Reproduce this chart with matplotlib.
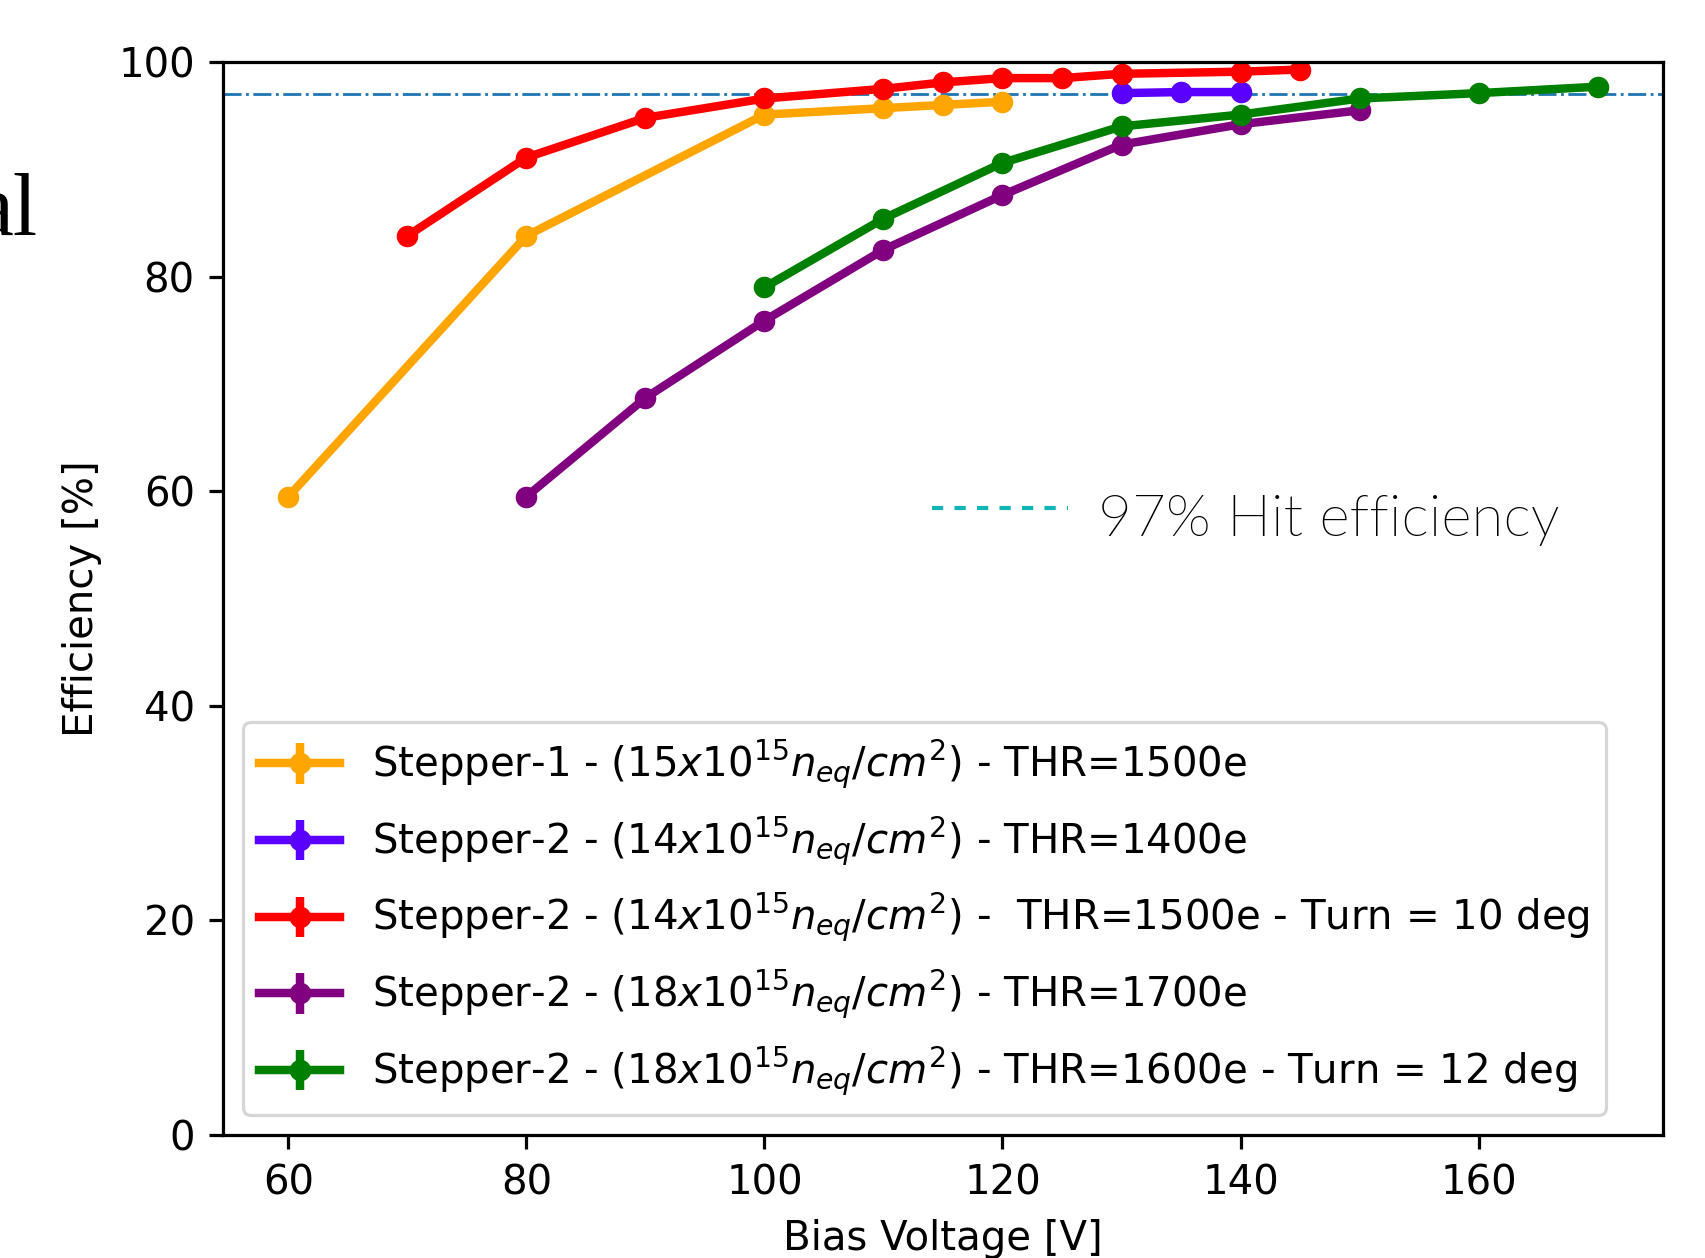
import matplotlib.pyplot as plt
from matplotlib.lines import Line2D
from matplotlib import font_manager

# scale of the original 6.4x4.8 figure as it appears in the screenshot
S = 2.9

# Data (bias voltage [V], efficiency [%])
v_s1 = [60, 80, 100, 110, 115, 120]
e_s1 = [59.5, 83.8, 95.1, 95.7, 96.0, 96.3]

v_s2_1400 = [130, 135, 140]
e_s2_1400 = [97.1, 97.2, 97.2]

v_s2_1500 = [70, 80, 90, 100, 110, 115, 120, 125, 130, 140, 145]
e_s2_1500 = [83.8, 91.1, 94.8, 96.6, 97.5, 98.1, 98.5, 98.5, 98.9, 99.1, 99.3]

v_s2_1700 = [80, 90, 100, 110, 120, 130, 140, 150]
e_s2_1700 = [59.5, 68.7, 75.9, 82.5, 87.6, 92.3, 94.2, 95.5]

v_s2_1600 = [100, 110, 120, 130, 140, 150, 160, 170]
e_s2_1600 = [79.0, 85.4, 90.6, 94.0, 95.1, 96.6, 97.1, 97.7]

err = 0.3

labels = [
    r"Stepper-1 - ($15x10^{15}n_{eq}/cm^{2}$) - THR=1500e",
    r"Stepper-2 - ($14x10^{15}n_{eq}/cm^{2}$) - THR=1400e",
    r"Stepper-2 - ($14x10^{15}n_{eq}/cm^{2}$) -  THR=1500e - Turn = 10 deg",
    r"Stepper-2 - ($18x10^{15}n_{eq}/cm^{2}$) - THR=1700e",
    r"Stepper-2 - ($18x10^{15}n_{eq}/cm^{2}$) - THR=1600e - Turn = 12 deg",
]
colors = ["orange", "#5a00ff", "red", "purple", "green"]
series = [(v_s1, e_s1), (v_s2_1400, e_s2_1400), (v_s2_1500, e_s2_1500),
          (v_s2_1700, e_s2_1700), (v_s2_1600, e_s2_1600)]

fig = plt.figure(figsize=(17.06, 12.58), dpi=100)
ax = fig.add_axes([0.1307, 0.0978, 0.8441, 0.8529])

for (x, y), c, lab in zip(series, colors, labels):
    ax.errorbar(x, y, yerr=err, color=c, marker="o", ms=5 * S, lw=2.1 * S,
                elinewidth=2.1 * S, label=lab)

ax.axhline(97, color="#1f77b4", ls="-.", lw=0.7 * S)

ax.set_ylim(0, 100)
ax.set_xlabel("Bias Voltage [V]", fontsize=10 * S, labelpad=4 * S)
ax.set_ylabel("Efficiency [%]", fontsize=10 * S, labelpad=4 * S)
ax.tick_params(labelsize=10 * S, length=3.5 * S, width=0.8 * S, pad=3.5 * S)
for sp in ax.spines.values():
    sp.set_linewidth(0.8 * S)

leg = ax.legend(loc="lower left", fontsize=10 * S, labelspacing=0.56)
leg.get_frame().set_linewidth(0.8 * S)

# slide overlays
fig.text(38 / 1706, 1 - 235 / 1258, "al", fontsize=63, family="Liberation Serif",
         ha="right", va="baseline")
fig.add_artist(Line2D([932 / 1706, 1068 / 1706], [1 - 508 / 1258, 1 - 508 / 1258],
                      color="#12b5b5", lw=3, ls=(0, (2.7, 2.7))))

# pick Lato Light if present (not Hairline / Thin)
lato_light = None
for f in font_manager.fontManager.ttflist:
    name = f.fname.lower()
    if "lato" in name and "light" in name and "italic" not in name:
        lato_light = f.fname
        break
if lato_light:
    fp = font_manager.FontProperties(fname=lato_light, size=42)
else:
    fp = font_manager.FontProperties(family="Lato", size=42)
fig.text(1098 / 1706, 1 - 536 / 1258, "97% Hit efficiency", fontproperties=fp,
         color="black", ha="left", va="baseline")

fig.savefig("out.png", dpi=100)
